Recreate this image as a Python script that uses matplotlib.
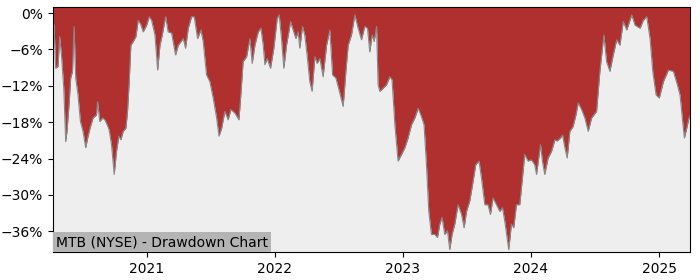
import numpy as np
import pandas as pd
import matplotlib
matplotlib.use("Agg")
import matplotlib.pyplot as plt
import matplotlib.dates as mdates
from matplotlib.ticker import PercentFormatter, MultipleLocator

# dates as decimal years, drawdown in percent
jaar = [
    2020.268, 2020.276, 2020.289, 2020.307, 2020.320, 2020.334, 2020.352, 2020.367,
    2020.377, 2020.393, 2020.406, 2020.420, 2020.432, 2020.445, 2020.463, 2020.482,
    2020.502, 2020.523, 2020.541, 2020.560, 2020.580, 2020.607, 2020.615, 2020.633,
    2020.654, 2020.672, 2020.690, 2020.705, 2020.724, 2020.745, 2020.763, 2020.781,
    2020.797, 2020.815, 2020.836, 2020.849, 2020.862, 2020.875, 2020.893, 2020.914,
    2020.932, 2020.951, 2020.971, 2020.998, 2021.018, 2021.037, 2021.063, 2021.084,
    2021.102, 2021.120, 2021.146, 2021.166, 2021.193, 2021.224, 2021.245, 2021.284,
    2021.302, 2021.323, 2021.349, 2021.370, 2021.396, 2021.422, 2021.440, 2021.466,
    2021.492, 2021.518, 2021.545, 2021.563, 2021.584, 2021.609, 2021.635, 2021.656,
    2021.688, 2021.719, 2021.734, 2021.752, 2021.779, 2021.805, 2021.823, 2021.844,
    2021.870, 2021.891, 2021.909, 2021.922, 2021.940, 2021.966, 2021.992, 2022.018,
    2022.034, 2022.052, 2022.070, 2022.091, 2022.123, 2022.143, 2022.164, 2022.182,
    2022.195, 2022.216, 2022.234, 2022.252, 2022.273, 2022.291, 2022.313, 2022.330,
    2022.352, 2022.377, 2022.404, 2022.430, 2022.451, 2022.477, 2022.508, 2022.534,
    2022.555, 2022.573, 2022.599, 2022.625, 2022.651, 2022.677, 2022.703, 2022.724,
    2022.742, 2022.760, 2022.776, 2022.795, 2022.807, 2022.820, 2022.846, 2022.873,
    2022.898, 2022.916, 2022.938, 2022.963, 2022.990, 2023.016, 2023.041, 2023.068,
    2023.094, 2023.120, 2023.141, 2023.166, 2023.185, 2023.203, 2023.224, 2023.250,
    2023.271, 2023.289, 2023.307, 2023.328, 2023.349, 2023.367, 2023.385, 2023.406,
    2023.432, 2023.459, 2023.479, 2023.498, 2023.523, 2023.545, 2023.570, 2023.596,
    2023.615, 2023.641, 2023.666, 2023.685, 2023.705, 2023.732, 2023.758, 2023.779,
    2023.797, 2023.815, 2023.828, 2023.849, 2023.867, 2023.888, 2023.914, 2023.935,
    2023.953, 2023.979, 2024.005, 2024.031, 2024.045, 2024.076, 2024.091, 2024.109,
    2024.135, 2024.162, 2024.188, 2024.205, 2024.232, 2024.248, 2024.266, 2024.284,
    2024.305, 2024.330, 2024.352, 2024.370, 2024.396, 2024.422, 2024.448, 2024.474,
    2024.513, 2024.539, 2024.570, 2024.591, 2024.617, 2024.643, 2024.670, 2024.695,
    2024.721, 2024.748, 2024.787, 2024.813, 2024.852, 2024.877, 2024.904, 2024.930,
    2024.951, 2024.977, 2025.002, 2025.034, 2025.073, 2025.112, 2025.143, 2025.164,
    2025.182, 2025.198, 2025.216, 2025.234, 2025.242,
]
drawdown = [
    -1.5, -2.0, -9.1, -8.8, -3.9, -6.9, -12.4, -21.2,
    -19.5, -15.1, -10.7, -9.6, -2.2, -10.7, -13.5, -17.9,
    -19.5, -22.2, -20.3, -18.7, -17.3, -16.8, -14.6, -17.9,
    -17.3, -17.6, -18.4, -19.2, -21.7, -26.6, -22.8, -20.3,
    -20.9, -19.5, -19.0, -16.2, -11.3, -5.3, -4.7, -3.9,
    -1.2, -1.8, -3.1, -2.0, -0.6, -1.2, -3.6, -9.4,
    -5.3, -3.6, -0.6, -3.1, -3.3, -6.9, -5.3, -4.2,
    -5.8, -2.5, -0.6, -0.6, -4.2, -2.8, -4.7, -10.2,
    -11.3, -14.0, -17.3, -20.3, -19.0, -16.2, -17.6, -15.9,
    -16.5, -17.6, -13.5, -8.0, -7.2, -4.2, -8.3, -5.3,
    -3.1, -2.5, -5.3, -8.5, -7.5, -9.1, -5.8, -0.9,
    -0.3, -4.2, -9.1, -5.3, -1.4, -2.8, -4.2, -3.1,
    -5.8, -2.2, -3.6, -6.9, -11.3, -12.9, -7.2, -8.3,
    -7.5, -10.5, -5.3, -2.8, -10.2, -10.7, -13.2, -15.4,
    -9.6, -5.3, -3.6, -0.3, -2.5, -4.4, -2.2, -2.5,
    -6.4, -3.6, -4.7, -2.2, -11.8, -12.9, -12.4, -11.8,
    -10.5, -11.0, -18.4, -24.4, -23.3, -22.2, -20.6, -18.4,
    -17.3, -15.7, -16.8, -18.4, -25.0, -32.7, -36.5, -36.5,
    -37.0, -34.8, -33.7, -36.5, -35.9, -39.0, -36.5, -34.8,
    -31.6, -33.2, -35.4, -32.7, -31.0, -28.3, -25.0, -24.4,
    -27.2, -31.6, -31.6, -33.2, -30.5, -31.6, -32.7, -32.1,
    -34.3, -37.0, -39.0, -34.8, -35.4, -31.6, -31.6, -27.2,
    -23.3, -24.4, -24.2, -25.0, -26.6, -21.7, -24.4, -26.6,
    -23.9, -22.8, -20.9, -21.1, -20.6, -20.1, -22.2, -23.9,
    -19.5, -18.7, -16.8, -14.8, -15.9, -17.3, -19.5, -17.3,
    -16.2, -9.6, -3.6, -8.0, -9.6, -6.9, -4.4, -5.3,
    -1.4, -2.8, -0.3, -2.0, -2.5, -1.2, -0.6, -4.2,
    -9.6, -13.5, -14.0, -11.3, -9.4, -9.6, -11.8, -13.5,
    -17.3, -20.6, -19.0, -17.3, -17.0,
]
titel = "MTB (NYSE) - Drawdown Chart"


def naar_datum(t):
    jr = int(np.floor(t))
    begin = pd.Timestamp(jr, 1, 1)
    lengte = (pd.Timestamp(jr + 1, 1, 1) - begin).days
    return begin + pd.Timedelta(days=(t - jr) * lengte)


datums = [naar_datum(t) for t in jaar]
dd = np.array(drawdown)

fig = plt.figure(figsize=(7, 2.8), dpi=100)
ax = fig.add_axes([0.0757, 0.1, 0.91, 0.875])
ax.set_facecolor("#eeeeee")

boven = 1.0
ax.fill_between(datums, dd, boven, color="#b03030", linewidth=0)
ax.plot(datums, dd, color="#888888", linewidth=0.8)

ax.set_ylim(-39.4, boven)
ax.set_xlim(datums[0], datums[-1])
ax.yaxis.set_major_locator(MultipleLocator(6))
ax.yaxis.set_major_formatter(PercentFormatter(decimals=0))
ax.xaxis.set_major_locator(mdates.YearLocator())
ax.xaxis.set_major_formatter(mdates.DateFormatter("%Y"))

ax.text(0.0044, 0.0113, titel, transform=ax.transAxes, fontsize=10,
        va="bottom", ha="left",
        bbox=dict(facecolor="#b4b4b4", edgecolor="none", boxstyle="square,pad=0.2"))

fig.savefig("out.png", dpi=100)
